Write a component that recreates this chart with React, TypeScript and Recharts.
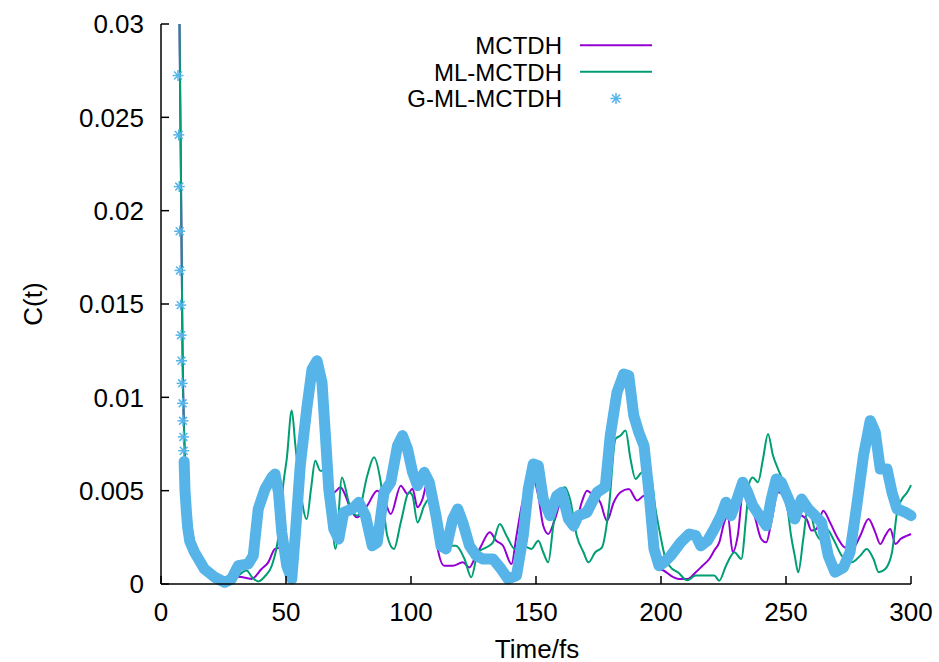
import React from 'react';
import { ComposedChart, Line, Scatter, XAxis, YAxis } from 'recharts';

// [time in fs, C(t)]
const MCTDH: [number, number][] = [
  [7.4, 0.03], [7.8, 0.0244], [8.2, 0.0186], [8.6, 0.0127], [9.4, 0.0075], [10.7, 0.0045], [12.7, 0.0026],
  [14.8, 0.0015], [17.4, 0.0008], [21.5, 0.0003], [26.8, 0.0001], [31.1, 0.00039], [36.2, 0.00027],
  [40.2, 0.0008], [42.9, 0.00116], [45.6, 0.00188], [48.3, 0.00196], [50.3, 0.002], [52, 0.0019],
  [53.7, 0.004], [55.7, 0.008], [57, 0.009], [58.3, 0.00955], [60.4, 0.0108], [62.4, 0.01116],
  [63.7, 0.0106], [65.7, 0.0081], [67.1, 0.0058], [69.1, 0.0049], [71.8, 0.00518], [73.8, 0.00473],
  [75.8, 0.00402], [78.5, 0.00357], [82.5, 0.0042], [86.5, 0.005], [89.2, 0.00455], [91.9, 0.00375],
  [95.9, 0.00527], [98.6, 0.00482], [100.6, 0.0051], [102.6, 0.00411], [104.6, 0.00455], [106.6, 0.00545],
  [108.6, 0.00402], [110.7, 0.00188], [113.3, 0.00098], [116.7, 0.00098], [120.7, 0.00116], [123.4, 0.00089],
  [125.4, 0.00134], [128.1, 0.00205], [131.5, 0.00277], [134.1, 0.00232], [136.8, 0.00205], [140.2, 0.00107],
  [142.2, 0.00259], [144.9, 0.00455], [146.9, 0.00509], [148.9, 0.00563], [150.9, 0.00473], [152.9, 0.00312],
  [154.9, 0.00268], [157.6, 0.00348], [160.3, 0.00447], [162.3, 0.00366], [165, 0.00286], [168.3, 0.00438],
  [170.4, 0.005], [173, 0.00473], [175.7, 0.00438], [178.4, 0.00339], [181.1, 0.00438], [183.8, 0.00491],
  [187.1, 0.00509], [190.5, 0.00447], [193.2, 0.00473], [195.2, 0.00402], [197.2, 0.00205], [199.2, 0.0008],
  [201.2, 0.00071], [203.9, 0.00045], [207.2, 0.00027], [210.6, 0.00027], [213.9, 0.00063], [216.6, 0.00098],
  [219.3, 0.00134], [221.3, 0.00179], [223.3, 0.00223], [225.3, 0.0033], [226.7, 0.00366], [228.7, 0.0017],
  [230.7, 0.00259], [232.7, 0.00473], [235.4, 0.00438], [237.4, 0.00366], [240.1, 0.00241], [242.1, 0.00223],
  [244.1, 0.0033], [246.8, 0.00491], [249.5, 0.00464], [251.5, 0.0036], [255, 0.0037], [258.2, 0.00348],
  [260.2, 0.00286], [262.2, 0.00295], [264.9, 0.00393], [267.6, 0.0033], [270.9, 0.00241], [273.6, 0.00196],
  [277, 0.00196], [279.7, 0.00259], [283, 0.00348], [285.7, 0.00277], [287.7, 0.00214], [289.7, 0.00259],
  [291.7, 0.00295], [293.8, 0.00214], [295.8, 0.00241], [298.5, 0.00259], [300, 0.00268],
];

const ML_MCTDH: [number, number][] = [
  [7.4, 0.03], [7.8, 0.0244], [8.2, 0.0186], [8.6, 0.0127], [9.4, 0.0073], [10.7, 0.00455], [12.7, 0.0026],
  [14.8, 0.0015], [17.4, 0.0008], [21.5, 0.00027], [26.8, 0.0001], [30.5, 0.0004], [34.2, 0.00072],
  [36.5, 0.00035], [38.9, 0.00014], [41.5, 0.0004], [44.3, 0.00098], [47, 0.00259], [49, 0.00545],
  [50.3, 0.0067], [52.3, 0.00929], [53.7, 0.0075], [55.7, 0.00509], [58.3, 0.00348], [60, 0.00509],
  [61.7, 0.0066], [63.7, 0.00607], [65.7, 0.00607], [67.7, 0.00455], [69.8, 0.00188], [72.4, 0.00571],
  [75.1, 0.00438], [78.5, 0.00366], [82.5, 0.0058], [85.2, 0.00679], [87.9, 0.00545], [90.5, 0.00259],
  [93.2, 0.00188], [95.9, 0.0033], [99.3, 0.00491], [100.6, 0.00473], [102.6, 0.0033], [105.3, 0.0042],
  [107.3, 0.00455], [109.3, 0.00366], [112.7, 0.00286], [115.4, 0.00205], [118, 0.00205], [121.4, 0.00134],
  [124.1, 0.00036], [126.8, 0.0017], [130.1, 0.00196], [132.8, 0.00223], [135.5, 0.00321], [138.2, 0.00259],
  [141.5, 0.00188], [144.9, 0.00205], [148.2, 0.00188], [150.9, 0.00232], [152.9, 0.0017], [154.9, 0.00116],
  [156.9, 0.00312], [158.9, 0.00473], [161.6, 0.00518], [163.6, 0.00455], [166.3, 0.00259], [169, 0.0017],
  [171, 0.00116], [173.7, 0.0017], [176.4, 0.00196], [179.1, 0.00402], [181.8, 0.00777], [183.8, 0.00795],
  [185.8, 0.00822], [187.8, 0.0067], [189.8, 0.00563], [192.5, 0.00598], [195.8, 0.00589], [197.8, 0.00402],
  [199.9, 0.0025], [201.5, 0.0015], [203.5, 0.00095], [207, 0.0006], [210.5, 0.0002], [213.9, 0.00045],
  [218.6, 0.00045], [221.3, 0.00045], [223.3, 0.00018], [226, 0.00098], [229.4, 0.0017], [232.1, 0.00134],
  [234.1, 0.00366], [235.4, 0.00545], [236.7, 0.00571], [238.8, 0.00545], [240.8, 0.0067], [242.8, 0.00804],
  [244.8, 0.00688], [246.8, 0.00616], [248.8, 0.00545], [250.5, 0.0042], [252, 0.0026], [253.5, 0.00152],
  [254.9, 0.00063], [256.9, 0.00241], [258.9, 0.0042], [261.6, 0.00286], [263.6, 0.00241], [266.3, 0.00295],
  [268.9, 0.00241], [272.3, 0.00152], [276.3, 0.00116], [279.7, 0.00152], [282.3, 0.00188], [285, 0.00134],
  [287.1, 0.00063], [289.7, 0.0008], [292.4, 0.0017], [294.4, 0.00384], [296.4, 0.00455], [298.5, 0.00491],
  [300, 0.0053],
];

// G-ML-MCTDH: dense points, drawn as a thick band of stars
const G_ML_BAND: [number, number][] = [
  [9.25, 0.00656], [9.6, 0.005], [10.2, 0.0038], [10.7, 0.003], [11.5, 0.0023], [13.4, 0.0017], [17.4, 0.0008],
  [21.5, 0.00036], [25.5, 0.00009], [28.2, 0.00027], [30.9, 0.00098], [34.9, 0.00107], [36.9, 0.00152],
  [38.9, 0.00402], [41.6, 0.00509], [44.3, 0.00571], [45.6, 0.00589], [47, 0.00491], [48.3, 0.00277],
  [50.3, 0.00098], [52.3, 0.00027], [53.7, 0.00259], [55.7, 0.00634], [58.3, 0.00938], [60.4, 0.0115],
  [62.4, 0.01196], [64.4, 0.0108], [65.7, 0.0081], [67.1, 0.00509], [69.1, 0.00295], [71.1, 0.00241],
  [73.1, 0.00384], [76.5, 0.00402], [79.1, 0.00438], [81.8, 0.00366], [84.5, 0.00205], [86.5, 0.00223],
  [89.2, 0.00491], [91.9, 0.00545], [94.6, 0.00741], [96.6, 0.00795], [98.6, 0.00723], [100.6, 0.006],
  [102.6, 0.00527], [105.3, 0.00598], [107.3, 0.00545], [110, 0.00366], [112, 0.00205], [114, 0.00188],
  [116.7, 0.00348], [118.7, 0.00402], [120.7, 0.0033], [123.4, 0.00205], [126.1, 0.00152], [128.8, 0.00134],
  [132.8, 0.00134], [136.1, 0.0008], [138.8, 0.00027], [142.2, 0.00045], [144.9, 0.00259], [146.9, 0.00509],
  [148.9, 0.00643], [150.9, 0.00634], [152.9, 0.00455], [155.6, 0.00366], [158.3, 0.00473], [160.3, 0.00491],
  [163, 0.00348], [165, 0.00312], [167, 0.00366], [170.4, 0.00384], [174.4, 0.00491], [177.7, 0.0052],
  [179.7, 0.00795], [182.4, 0.01027], [185.1, 0.01125], [187.1, 0.01116], [189.1, 0.00902], [191.1, 0.00813],
  [193.2, 0.00741], [195.2, 0.00491], [197.2, 0.00188], [199.2, 0.00098], [201.2, 0.00116], [203.9, 0.00152],
  [207.9, 0.00223], [211.3, 0.00268], [213.9, 0.00259], [215.9, 0.00205], [218.6, 0.00232], [221.3, 0.00295],
  [224, 0.00366], [226, 0.00438], [228, 0.00366], [230, 0.00438], [232.7, 0.00545], [234.7, 0.00491],
  [236.7, 0.0042], [239.4, 0.00366], [242.1, 0.00312], [244.1, 0.00455], [246.1, 0.00563], [248.1, 0.00545],
  [251.5, 0.0044], [253.5, 0.00348], [256.2, 0.00455], [258.9, 0.00402], [261.6, 0.00366], [264.2, 0.0033],
  [266.9, 0.00152], [269.6, 0.00063], [273, 0.00089], [275.6, 0.0017], [278.3, 0.0042], [281, 0.00688],
  [283.7, 0.00875], [285.7, 0.00813], [287.7, 0.00616], [290.4, 0.00616], [292.4, 0.00491], [294.4, 0.00402],
  [297.8, 0.00384], [300, 0.00366],
];

// the separate stars visible on the steep initial drop
const G_ML_STARS: [number, number][] = [
  [6.8, 0.02724], [7.1, 0.02406], [7.3, 0.02129], [7.47, 0.0189], [7.6, 0.0168], [7.9, 0.01494],
  [8.05, 0.01333], [8.2, 0.01196], [8.45, 0.01075], [8.65, 0.00968], [8.8, 0.00874], [8.95, 0.00788],
  [9.1, 0.00714],
];

const X_TICKS = [0, 50, 100, 150, 200, 250, 300];
const Y_TICKS = [0, 0.005, 0.01, 0.015, 0.02, 0.025, 0.03];

const PURPLE = '#9400d3';
const GREEN = '#009e73';
const BLUE = '#56b4e9';
const FONT = '"Liberation Sans", Arial, Helvetica, sans-serif';

const toRows = (pts: [number, number][]) => pts.map(([t, c]) => ({ t, c }));

function Star({ cx, cy, r = 5.5 }: { cx?: number; cy?: number; r?: number }) {
  if (cx == null || cy == null) return null;
  const d = r * 0.72;
  return (
    <g stroke={BLUE} strokeWidth={1.5}>
      <line x1={cx - r} y1={cy} x2={cx + r} y2={cy} />
      <line x1={cx} y1={cy - r} x2={cx} y2={cy + r} />
      <line x1={cx - d} y1={cy - d} x2={cx + d} y2={cy + d} />
      <line x1={cx - d} y1={cy + d} x2={cx + d} y2={cy - d} />
    </g>
  );
}

const tickStyle = { fill: '#000', fontSize: 26, fontFamily: FONT };
const axisStroke = { stroke: '#000', strokeWidth: 1.5 };

export default function App() {
  return (
    <div style={{ position: 'absolute', left: 0, top: 0, width: 939, height: 662, background: '#fff' }}>
      <ComposedChart width={939} height={662} margin={{ top: 24, right: 28, left: 0, bottom: 38 }}>
        <XAxis
          type="number"
          dataKey="t"
          domain={[0, 300]}
          ticks={X_TICKS}
          interval={0}
          height={40}
          tickSize={-8}
          tickMargin={27}
          axisLine={axisStroke}
          tickLine={axisStroke}
          tick={tickStyle}
        />
        <YAxis
          type="number"
          dataKey="c"
          domain={[0, 0.03]}
          ticks={Y_TICKS}
          interval={0}
          width={161}
          tickSize={-8}
          tickMargin={25}
          axisLine={axisStroke}
          tickLine={axisStroke}
          tick={tickStyle}
          tickFormatter={(v: number) => String(Number(v.toFixed(3)))}
        />
        <Line
          data={toRows(MCTDH)}
          dataKey="c"
          type="monotone"
          stroke={PURPLE}
          strokeWidth={2}
          dot={false}
          isAnimationActive={false}
        />
        <Line
          data={toRows(ML_MCTDH)}
          dataKey="c"
          type="monotone"
          stroke={GREEN}
          strokeWidth={2}
          dot={false}
          isAnimationActive={false}
        />
        <Line
          data={toRows(G_ML_BAND)}
          dataKey="c"
          type="linear"
          stroke={BLUE}
          strokeWidth={11}
          strokeLinejoin="round"
          strokeLinecap="round"
          dot={false}
          isAnimationActive={false}
        />
        <Scatter
          data={toRows(G_ML_STARS)}
          dataKey="c"
          shape={(p: any) => <Star cx={p.cx} cy={p.cy} />}
          isAnimationActive={false}
        />
      </ComposedChart>

      <div
        style={{
          position: 'absolute', left: 537, top: 649, transform: 'translate(-50%, -50%)',
          fontFamily: FONT, fontSize: 26, whiteSpace: 'nowrap',
        }}
      >
        Time/fs
      </div>
      <div
        style={{
          position: 'absolute', left: 33, top: 304, transform: 'translate(-50%, -50%) rotate(-90deg)',
          fontFamily: FONT, fontSize: 26, whiteSpace: 'nowrap',
        }}
      >
        C(t)
      </div>

      <svg width={939} height={130} style={{ position: 'absolute', left: 0, top: 0 }}>
        <g fontFamily={FONT} fontSize={24} fill="#000" textAnchor="end">
          <text x={562} y={54}>MCTDH</text>
          <text x={562} y={80.5}>ML-MCTDH</text>
          <text x={562} y={107}>G-ML-MCTDH</text>
        </g>
        <line x1={580} y1={45.3} x2={652} y2={45.3} stroke={PURPLE} strokeWidth={2} />
        <line x1={580} y1={71.7} x2={652} y2={71.7} stroke={GREEN} strokeWidth={2} />
        <Star cx={616} cy={98.5} />
      </svg>
    </div>
  );
}
